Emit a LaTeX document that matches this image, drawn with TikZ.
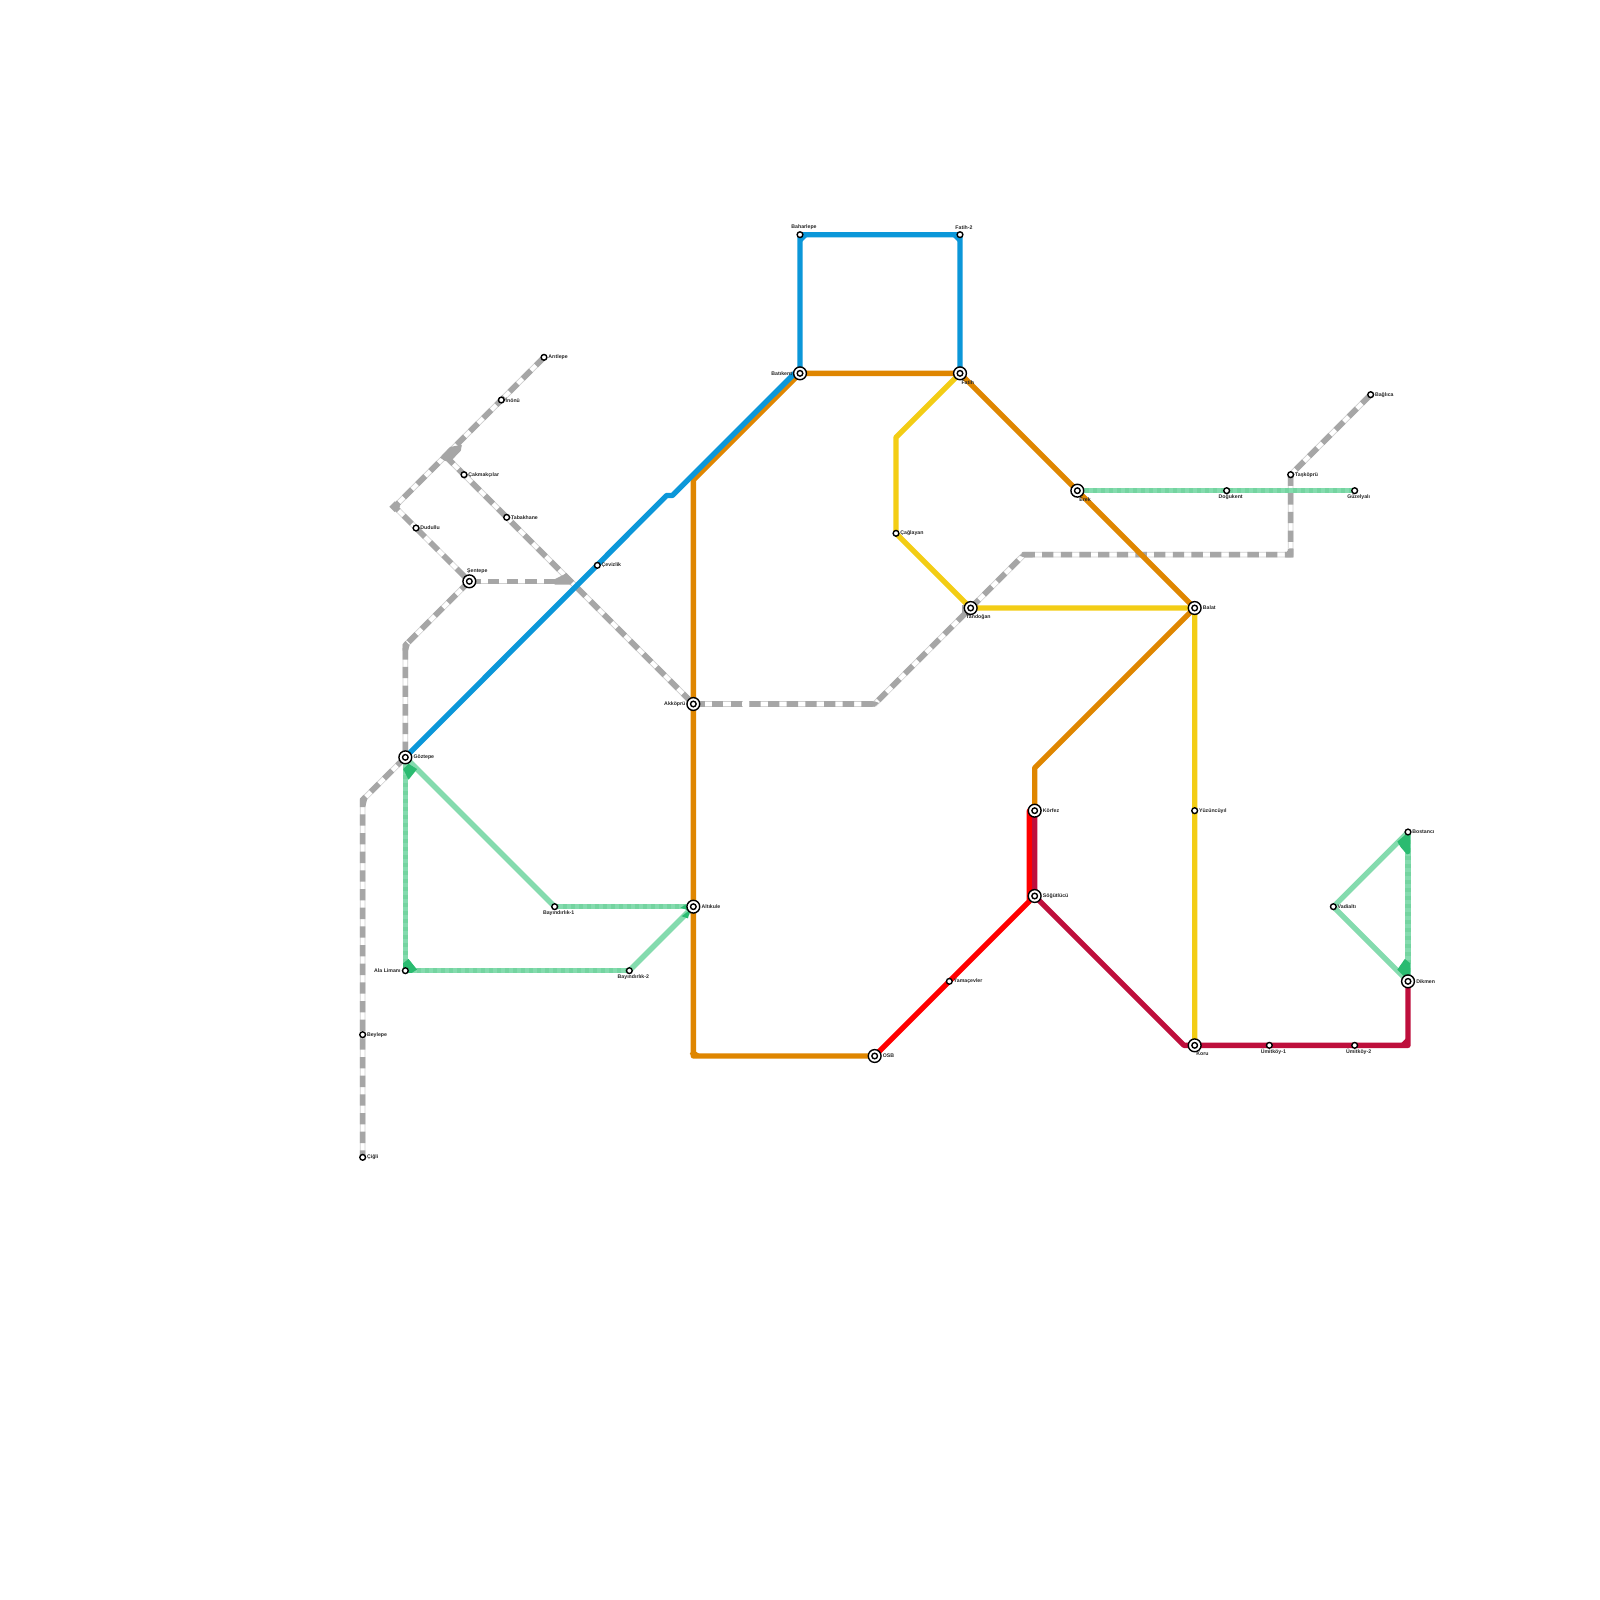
\documentclass[tikz,border=0pt]{standalone}
\usepackage{fontspec}
\setmainfont{Liberation Sans}
\definecolor{cblue}{HTML}{0B97D9}
\definecolor{corange}{HTML}{DF8600}
\definecolor{cyellow}{HTML}{F3CD15}
\definecolor{cred}{HTML}{FF0000}
\definecolor{ccrim}{HTML}{BE0F3C}
\definecolor{cgreen}{HTML}{84DBAE}
\definecolor{cgreenb}{HTML}{74D4A0}
\definecolor{cgreend}{HTML}{2ABB70}
\definecolor{cgray}{HTML}{A6A6A6}
\definecolor{cgrayl}{HTML}{CFCFCF}
\tikzset{
  x=8pt,y=-8pt,
  metro/.style={line width=4pt,line join=round},
  greenline/.style={metro,draw=cgreen},
  greenstripe/.style={line width=4pt,draw=cgreenb,dash pattern=on 3pt off 3pt},
  grayblob/.style={fill=cgray,draw=none},
  greenblob/.style={fill=cgreend,draw=none},
  simplest/.style={circle,draw=black,fill=white,line width=1.05pt,inner sep=0pt,minimum size=4.3pt},
  bigst/.style={circle,draw=black,fill=white,line width=1.05pt,inner sep=0pt,minimum size=9.6pt},
  smallin/.style={circle,draw=black,fill=white,line width=1.05pt,inner sep=0pt,minimum size=4.2pt},
  lab/.style={font=\fontsize{3.9}{4}\selectfont\bfseries,inner sep=0pt,text=black!85},
  graybase/.style={line width=4.2pt,draw=cgrayl,line join=round},
  graywhite/.style={line width=3pt,draw=white,line join=round},
  graydash/.style={line width=4.2pt,draw=cgray,dash pattern=on 8.5pt off 5.5pt},
}
\newcommand{\grayrun}[1]{%
  \draw[graybase] #1;\draw[graywhite] #1;\draw[graydash] #1;}
\newcommand{\gline}[1]{%
  \draw[greenline] #1;\draw[greenstripe] #1;}
\begin{document}
\begin{tikzpicture}
\useasboundingbox (0,0) rectangle (150,150);
\fill[white] (0,0) rectangle (150,150);
% station positions
\coordinate (aritepe) at (51,33.5);
\coordinate (inonu) at (47,37.5);
\coordinate (cakmak) at (43.5,44.5);
\coordinate (tabak) at (47.5,48.5);
\coordinate (dudullu) at (39,49.5);
\coordinate (sentepe) at (44,54.5);
\coordinate (cevizlik) at (56,53);
\coordinate (goztepe) at (38,71);
\coordinate (ala) at (38,91);
\coordinate (bay1) at (52,85);
\coordinate (bay2) at (59,91);
\coordinate (altikule) at (65,85);
\coordinate (akkopru) at (65,66);
\coordinate (batikent) at (75,35);
\coordinate (baharlepe) at (75,22);
\coordinate (fatihb) at (90,22);
\coordinate (fatih) at (90,35);
\coordinate (caglayan) at (84,50);
\coordinate (tandogan) at (91,57);
\coordinate (erek) at (101,46);
\coordinate (balat) at (112,57);
\coordinate (dogukent) at (115,46);
\coordinate (guzelyali) at (127,46);
\coordinate (taskopru) at (121,44.5);
\coordinate (baglica) at (128.5,37);
\coordinate (korfez) at (97,76);
\coordinate (sogutlu) at (97,84);
\coordinate (yamac) at (89,92);
\coordinate (osb) at (82,99);
\coordinate (koru) at (112,98);
\coordinate (yuzuncu) at (112,76);
\coordinate (umit1) at (119,98);
\coordinate (umit2) at (127,98);
\coordinate (bostanci) at (132,78);
\coordinate (dikmen) at (132,92);
\coordinate (vadi) at (125,85);
\coordinate (beylepe) at (34,97);
\coordinate (cigli) at (34,108.5);
% bends
\coordinate (jleft) at (37,47.5);
\coordinate (jtop) at (41.75,42.75);
\coordinate (jmid) at (53.5,54.5);
\coordinate (gtop) at (38,60.5);
\coordinate (gleft) at (34,75);
\coordinate (gh1) at (69.7,66);
\coordinate (gh2) at (70.25,66);
\coordinate (gh3) at (82,66);
\coordinate (gh4) at (96,52);
\coordinate (gh5) at (121,52);
\coordinate (bj1) at (62.5,46.45);
\coordinate (bj2) at (63.03,46.45);
\coordinate (bj3) at (74.5,35);
\coordinate (oa) at (65,45);
\coordinate (ob) at (65,99);
\coordinate (oc) at (97,72);
\coordinate (ya) at (84,41);
\coordinate (ra) at (96.5,84.5);
\coordinate (rb) at (96.5,76);
\coordinate (ca) at (111,98);
\coordinate (cb) at (132,98);
% grey lines
\grayrun{(aritepe) -- (inonu) -- (jleft) -- (dudullu) -- (sentepe)}
\grayrun{(jtop) -- (cakmak) -- (tabak) -- (jmid) -- (akkopru)}
\grayrun{(sentepe) -- (jmid)}
\grayrun{(sentepe) -- (gtop) -- (goztepe)}
\grayrun{(goztepe) -- (gleft) -- (beylepe) -- (cigli)}
\grayrun{(akkopru) -- (gh1)}
\grayrun{(gh2) -- (gh3) -- (tandogan) -- (gh4) -- (gh5) -- (taskopru) -- (baglica)}
\fill[grayblob] (52,54.3) -- (53.1,53.75) -- (53.75,54.45) -- (53.4,54.8) -- (52,54.8) -- cycle;
\fill[grayblob] (41.25,42.9) -- (42.2,41.9) -- (43.3,41.7) -- (43.2,42.25) -- (42.2,43.3) -- (41.7,43.2) -- cycle;
\fill[grayblob] (36.5,47.5) -- (37,47) -- (37.5,47.5) -- (37,48) -- cycle;
\fill[grayblob] (120.5,51.9) -- (120.9,51.4) -- (121.25,51.4) -- (121.25,52.25) -- (120.5,52.25) -- cycle;
\fill[grayblob] (90.2,56.7) rectangle (91,57.75);
\fill[grayblob] (33.75,74.9) -- (34,74.6) -- (34.4,75) -- (34.25,75.6) -- (33.75,75.6) -- cycle;
\fill[grayblob] (37.75,60.4) -- (38,60.1) -- (38.4,60.5) -- (38.25,61) -- (37.75,61) -- cycle;
\fill[grayblob] (81.3,65.75) -- (82,65.75) -- (82.4,65.9) -- (82,66.25) -- (81.3,66.25) -- cycle;
\fill[grayblob] (95.6,52.1) -- (96,51.75) -- (96.8,51.75) -- (96.8,52.25) -- (96,52.25) -- cycle;
% green lines
\draw[greenline] (goztepe) -- (bay1);
\gline{(bay1) -- (altikule)}
\draw[greenline] (altikule) -- (bay2);
\gline{(bay2) -- (ala) -- (goztepe)}
\gline{(erek) -- (dogukent) -- (guzelyali)}
\draw[greenline] (vadi) -- (bostanci);
\gline{(bostanci) -- (dikmen)}
\draw[greenline] (dikmen) -- (vadi);
\fill[greenblob] (37.8,72.1) -- (38.3,71.6) -- (39.1,72.1) -- (38.3,73.1) -- cycle;
\fill[greenblob] (37.8,90.3) -- (38.3,89.9) -- (39.1,90.9) -- (38.6,91.2) -- (37.8,91.2) -- cycle;
\fill[greenblob] (63.9,85.9) -- (64.7,85.3) -- (64.5,86.1) -- cycle;
\fill[greenblob] (63.8,85.1) -- (64.3,84.8) -- (64.4,85.3) -- cycle;
\fill[greenblob] (131,78.9) -- (131.7,78.3) -- (132.2,78.3) -- (132.2,80) -- (131.9,80.1) -- (131.3,79.4) -- cycle;
\fill[greenblob] (131,90.9) -- (131.7,89.9) -- (132.2,90.3) -- (132.2,91.4) -- (131.7,91.6) -- cycle;
% coloured lines
\draw[metro,draw=corange] (fatih) -- (batikent) -- (oa) -- (akkopru) -- (altikule) -- (ob) -- (osb);
\draw[metro,draw=corange] (64.8,98.6) -- (65.4,99);
\draw[metro,draw=corange] (fatih) -- (erek) -- (balat) -- (oc) -- (korfez);
\draw[metro,draw=cblue] (goztepe) -- (bj1) -- (bj2) -- (bj3) -- (batikent) -- (baharlepe) -- (fatihb) -- (fatih);
\draw[metro,draw=cblue] (75,22.5) -- (75.5,22);
\draw[metro,draw=cblue] (90,22.5) -- (89.5,22);
\draw[metro,draw=cyellow] (fatih) -- (ya) -- (caglayan) -- (tandogan) -- (balat) -- (yuzuncu) -- (koru);
\draw[metro,draw=cred] (osb) -- (yamac) -- (ra) -- (rb) -- (korfez);
\draw[metro,draw=ccrim] (korfez) -- (sogutlu) -- (ca) -- (koru) -- (umit1) -- (umit2) -- (cb) -- (dikmen);
\draw[metro,draw=ccrim] (131.5,98) -- (132,97.5);
% station markers
\foreach \n in {aritepe,inonu,cakmak,tabak,dudullu,cevizlik,ala,bay1,bay2,baharlepe,fatihb,caglayan,dogukent,guzelyali,taskopru,baglica,yamac,yuzuncu,umit1,umit2,bostanci,vadi,beylepe,cigli}
  \node[simplest] (m-\n) at (\n) {};
\foreach \n in {sentepe,goztepe,altikule,akkopru,batikent,fatih,tandogan,erek,balat,korfez,sogutlu,osb,koru,dikmen}{
  \node[bigst] (m-\n) at (\n) {};
  \node[smallin] (i-\n) at (\n) {};
}
% labels: right of a simple station
\foreach \n/\t in {aritepe/Arıtlepe,inonu/İnönü,cakmak/Çakmakçılar,tabak/Tabakhane,dudullu/Dudullu,cevizlik/Çevizlik,caglayan/Çağlayan,taskopru/Taşköprü,baglica/Bağlıca,bostanci/Bostancı,vadi/Vadialtı,beylepe/Beylepe,cigli/Çiğli,yamac/Yamaçevler,yuzuncu/Yüzüncüyıl}
  \node[lab,anchor=west] (l-\n) at ([xshift=3.1pt]\n) {\t};
% labels: right of an interchange
\foreach \n/\t in {goztepe/Göztepe,altikule/Altıkule,balat/Balat,dikmen/Dikmen,korfez/Körfez,sogutlu/Söğütlücü,osb/OSB}
  \node[lab,anchor=west] (l-\n) at ([xshift=6pt]\n) {\t};
% labels: left
\node[lab,anchor=east] (l-ala) at ([xshift=-3.4pt]ala) {Ala Limanı};
\node[lab,anchor=east] (l-batikent) at ([xshift=-5.8pt]batikent) {Batıkent};
\node[lab,anchor=east] (l-akkopru) at ([xshift=-5.8pt]akkopru) {Akköprü};
% labels: above
\node[lab] (l-sentepe) at ([xshift=6pt,yshift=7.3pt]sentepe) {Şentepe};
\node[lab] (l-baharlepe) at ([xshift=3pt,yshift=5.5pt]baharlepe) {Baharlepe};
\node[lab] (l-fatihb) at ([xshift=3pt,yshift=5.5pt]fatihb) {Fatih-2};
% labels: below
\foreach \n/\t in {bay1/Bayındırlık-1,bay2/Bayındırlık-2,dogukent/Doğukent,guzelyali/Güzelyalı,umit1/Ümitköy-1,umit2/Ümitköy-2}
  \node[lab] (l-\n) at ([xshift=3pt,yshift=-4.5pt]\n) {\t};
\foreach \n/\t in {koru/Koru,erek/Erek,fatih/Fatih,tandogan/Tandoğan}
  \node[lab] (l-\n) at ([xshift=5.8pt,yshift=-6.6pt]\n) {\t};
\end{tikzpicture}
\end{document}
